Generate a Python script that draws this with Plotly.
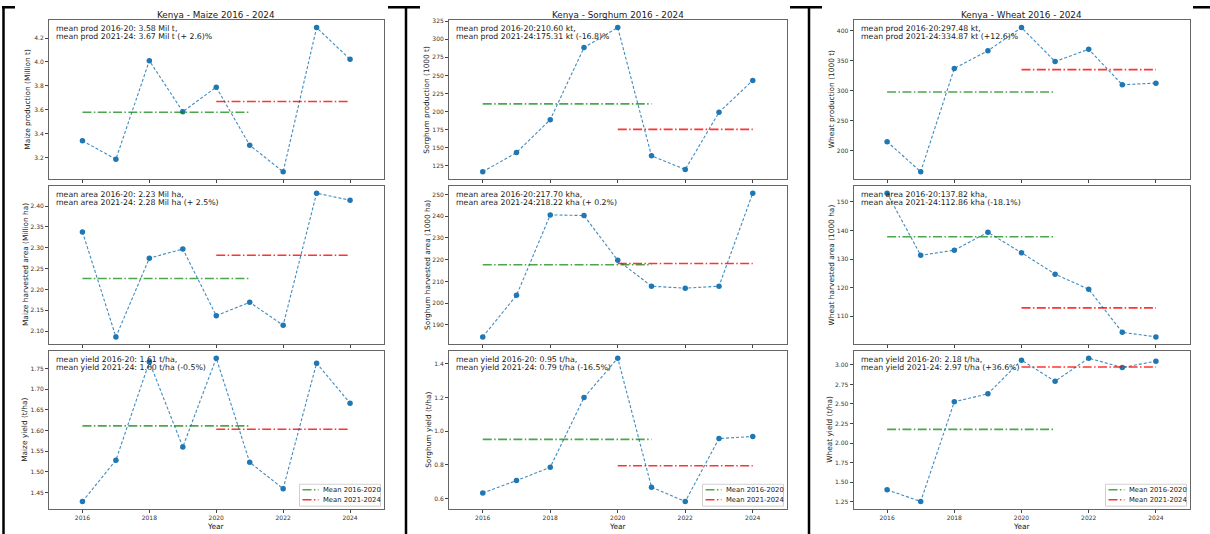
import plotly.graph_objects as go

W, H = 1210, 534

years = [2016, 2017, 2018, 2019, 2020, 2021, 2022, 2023, 2024]
period1_x = [2016, 2021]
period2_x = [2020, 2024]

crops = ["Maize", "Sorghum", "Wheat"]

maize_prod = [3.342, 3.188, 4.011, 3.585, 3.790, 3.305, 3.083, 4.287, 4.022]
maize_area = [2.338, 2.086, 2.275, 2.297, 2.137, 2.169, 2.114, 2.431, 2.414]
maize_yield = [1.428, 1.528, 1.766, 1.560, 1.775, 1.523, 1.459, 1.763, 1.666]

sorghum_prod = [116.7, 143.3, 188.8, 288.5, 316.1, 138.8, 119.9, 199.0, 243.1]
sorghum_area = [184.5, 203.6, 240.6, 240.3, 219.7, 207.8, 206.9, 207.8, 250.6]
sorghum_yield = [0.633, 0.706, 0.785, 1.199, 1.433, 0.667, 0.582, 0.956, 0.968]

wheat_prod = [214.6, 164.3, 336.9, 366.4, 405.0, 348.4, 368.8, 309.5, 312.3]
wheat_area = [153.1, 131.3, 133.1, 139.4, 132.2, 124.7, 119.4, 104.3, 102.7]
wheat_yield = [1.403, 1.254, 2.528, 2.630, 3.060, 2.790, 3.085, 2.966, 3.047]

maize_means = [[3.58, 3.67], [2.226, 2.282], [1.611, 1.603]]
sorghum_means = [[210.60, 175.31], [217.70, 218.22], [0.951, 0.794]]
wheat_means = [[297.48, 334.87], [137.82, 112.86], [2.175, 2.972]]

maize_text = [["mean prod 2016-20: 3.58 Mil t,", "mean prod 2021-24: 3.67 Mil t (+ 2.6)%"],
              ["mean area 2016-20: 2.23 Mil ha,", "mean area 2021-24: 2.28 Mil ha (+ 2.5%)"],
              ["mean yield 2016-20: 1.61 t/ha,", "mean yield 2021-24: 1.60 t/ha (-0.5%)"]]
sorghum_text = [["mean prod 2016-20:210.60 kt,", "mean prod 2021-24:175.31 kt (-16.8)%"],
                ["mean area 2016-20:217.70 kha,", "mean area 2021-24:218.22 kha (+ 0.2%)"],
                ["mean yield 2016-20: 0.95 t/ha,", "mean yield 2021-24: 0.79 t/ha (-16.5%)"]]
wheat_text = [["mean prod 2016-20:297.48 kt,", "mean prod 2021-24:334.87 kt (+12.6)%"],
              ["mean area 2016-20:137.82 kha,", "mean area 2021-24:112.86 kha (-18.1%)"],
              ["mean yield 2016-20: 2.18 t/ha,", "mean yield 2021-24: 2.97 t/ha (+36.6%)"]]

maize_labels = ["Maize production (Million t)", "Maize harvested area (Million ha)", "Maize yield (t/ha)"]
sorghum_labels = ["Sorghum production (1000 t)", "Sorghum harvested area (1000 ha)", "Sorghum yield (t/ha)"]
wheat_labels = ["Wheat production (1000 t)", "Wheat harvested area (1000 ha)", "Wheat yield (t/ha)"]

maize_dticks = [0.2, 0.05, 0.05]
sorghum_dticks = [25, 10, 0.2]
wheat_dticks = [50, 10, 0.25]
maize_fmt = [".1f", ".2f", ".2f"]
sorghum_fmt = ["d", "d", ".1f"]
wheat_fmt = ["d", "d", ".2f"]

legend_names = ["Mean 2016-2020", "Mean 2021-2024"]

series = [[maize_prod, maize_area, maize_yield],
          [sorghum_prod, sorghum_area, sorghum_yield],
          [wheat_prod, wheat_area, wheat_yield]]
means = [maize_means, sorghum_means, wheat_means]
texts = [maize_text, sorghum_text, wheat_text]
labels = [maize_labels, sorghum_labels, wheat_labels]
dticks = [maize_dticks, sorghum_dticks, wheat_dticks]
fmts = [maize_fmt, sorghum_fmt, wheat_fmt]

# ---------- layout geometry (pixels) ----------
panel_x = [(49, 383.5), (449, 786.5), (853.5, 1189.5)]
row_y = [(17.5, 177), (184, 343), (350, 508.5)]
ylab_off = [[21, 24, 24], [22, 22, 20], [22, 22, 23.5]]

def fx(px):
    return px / W

def fy(py):
    return 1 - py / H

FONT = "DejaVu Sans"
TXT = "#1a1a1a"
BLUE = "#1f77b4"
GREEN = "rgba(0,128,0,0.7)"
RED = "rgba(255,0,0,0.8)"
DASHDOT = "9px,2.4px,1.5px,2.4px"
MEAN_COLORS = [GREEN, RED]

fig = go.Figure()
layout = dict(width=W, height=H, margin=dict(l=0, r=0, t=0, b=0),
              paper_bgcolor="white", plot_bgcolor="white",
              font=dict(family=FONT, color=TXT), showlegend=False)
annotations = []
shapes = []

for p in range(3):
    x0, x1 = panel_x[p]
    for r in range(3):
        k = p * 3 + r + 1
        xa = "x" if k == 1 else f"x{k}"
        ya = "y" if k == 1 else f"y{k}"
        y_top, y_bot = row_y[r]
        vals = series[p][r]
        m1, m2 = means[p][r]
        lo, hi = min(vals), max(vals)
        pad = (hi - lo) * 0.05
        fig.add_trace(go.Scatter(x=years, y=vals, mode="lines+markers", xaxis=xa, yaxis=ya,
                                 line=dict(color="rgba(31,119,180,0.85)", width=1.1, dash="3px,2px"),
                                 marker=dict(color=BLUE, size=5.5), showlegend=False))
        fig.add_trace(go.Scatter(x=period1_x, y=[m1, m1], mode="lines", xaxis=xa, yaxis=ya,
                                 line=dict(color=GREEN, width=1.6, dash=DASHDOT),
                                 name=legend_names[0]))
        fig.add_trace(go.Scatter(x=period2_x, y=[m2, m2], mode="lines", xaxis=xa, yaxis=ya,
                                 line=dict(color=RED, width=1.6, dash=DASHDOT),
                                 name=legend_names[1]))
        key_x = "xaxis" if k == 1 else f"xaxis{k}"
        key_y = "yaxis" if k == 1 else f"yaxis{k}"
        layout[key_x] = dict(domain=[fx(x0), fx(x1)], anchor=ya, range=[2015, 2025],
                             tickvals=[2016, 2018, 2020, 2022, 2024], ticks="outside", ticklen=3,
                             tickcolor="#444", showticklabels=(r == 2),
                             tickfont=dict(size=6, family=FONT, color="#333"),
                             showline=True, linecolor="#666", linewidth=1, mirror=True,
                             showgrid=False, zeroline=False)
        layout[key_y] = dict(domain=[fy(y_bot), fy(y_top)], anchor=xa, range=[lo - pad, hi + pad],
                             dtick=dticks[p][r], tickformat=fmts[p][r], ticks="outside", ticklen=3,
                             tickcolor="#444", tickfont=dict(size=6, family=FONT, color="#333"),
                             showline=True, linecolor="#666", linewidth=1, mirror=True,
                             showgrid=False, zeroline=False)
        # stats text (two lines)
        for i, line in enumerate(texts[p][r]):
            annotations.append(dict(xref="paper", yref="paper", x=fx(x0 + 5),
                                    y=fy(y_top + 8.2 + 8 * i), xanchor="left", yanchor="middle",
                                    align="left", showarrow=False, text=line,
                                    font=dict(size=7.8, family=FONT, color=TXT)))
        # y label
        annotations.append(dict(xref="paper", yref="paper", x=fx(x0 - ylab_off[p][r]),
                                y=fy((y_top + y_bot) / 2), xanchor="center", yanchor="middle",
                                textangle=-90, showarrow=False, text=labels[p][r],
                                font=dict(size=7.4, family=FONT, color=TXT)))
    # title
    annotations.append(dict(xref="paper", yref="paper", x=fx((x0 + x1) / 2), y=fy(12.3),
                            xanchor="center", yanchor="middle", showarrow=False,
                            text=f"Kenya - {crops[p]} 2016 - 2024",
                            font=dict(size=8.8, family=FONT, color=TXT)))
    # x label
    annotations.append(dict(xref="paper", yref="paper", x=fx((x0 + x1) / 2), y=fy(526),
                            xanchor="center", yanchor="middle", showarrow=False, text="Year",
                            font=dict(size=7.4, family=FONT, color=TXT)))
    # legend box (bottom-right of yield subplot)
    bx1 = x1 - 3
    bx0 = bx1 - 81
    by1 = row_y[2][1] - 2.5
    by0 = by1 - 22
    shapes.append(dict(type="rect", xref="paper", yref="paper", x0=fx(bx0), x1=fx(bx1),
                       y0=fy(by1), y1=fy(by0), fillcolor="rgba(255,255,255,0.85)",
                       line=dict(color="#d0d0d0", width=1)))
    for i in range(2):
        ly = by0 + 5.5 + 10 * i
        shapes.append(dict(type="line", xref="paper", yref="paper", x0=fx(bx0 + 3), x1=fx(bx0 + 19),
                           y0=fy(ly), y1=fy(ly),
                           line=dict(color=MEAN_COLORS[i], width=1.6, dash=DASHDOT)))
        annotations.append(dict(xref="paper", yref="paper", x=fx(bx0 + 21), y=fy(ly),
                                xanchor="left", yanchor="middle", showarrow=False,
                                text=legend_names[i], font=dict(size=6.8, family=FONT, color=TXT)))

# black table borders of the screenshot
for xv, wv in [(3.5, 2.5), (406, 2.5), (809, 2.5)]:
    shapes.append(dict(type="line", xref="paper", yref="paper", x0=fx(xv), x1=fx(xv),
                       y0=0, y1=fy(3), line=dict(color="black", width=wv)))
for a, b in [(2, 15), (388, 420), (790, 822), (1193, 1210)]:
    shapes.append(dict(type="line", xref="paper", yref="paper", x0=fx(a), x1=fx(b),
                       y0=fy(4.3), y1=fy(4.3), line=dict(color="black", width=2.5)))

layout["annotations"] = annotations
layout["shapes"] = shapes
fig.update_layout(**layout)
fig.write_html("out.html", config={"displayModeBar": False},
               post_script="document.body.style.margin='0';document.body.style.overflow='hidden';")
